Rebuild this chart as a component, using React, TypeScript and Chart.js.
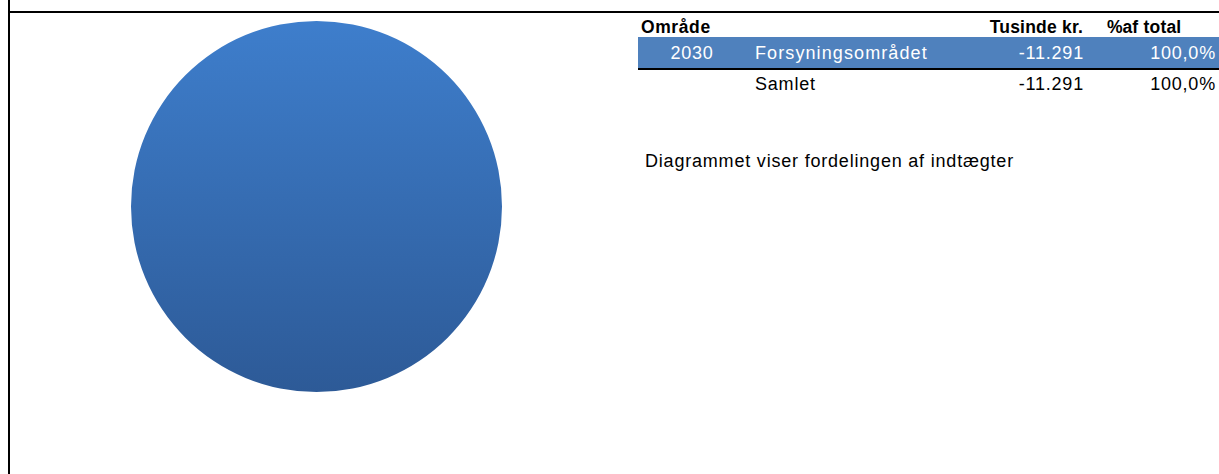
import React, { useEffect, useRef } from "react";
import { Chart, registerables } from "chart.js";

Chart.register(...registerables);

const years = ["2030"];
const areas = ["Forsyningsområdet"];
const values = [-11291];
const shares = ["100,0%"];
const totalLabel = "Samlet";
const totalValue = "-11.291";
const totalShare = "100,0%";
const headers = ["Område", "Tusinde kr.", "% af total"];
const note = "Diagrammet viser fordelingen af indtægter";

const fmt = (v: number) => {
  const s = Math.abs(v).toString().replace(/\B(?=(\d{3})+(?!\d))/g, ".");
  return (v < 0 ? "-" : "") + s;
};

const FONT = "'Liberation Sans', Arial, sans-serif";

export default function App() {
  const ref = useRef<HTMLCanvasElement | null>(null);

  useEffect(() => {
    if (!ref.current) return;
    const chart = new Chart(ref.current, {
      type: "pie",
      data: {
        labels: areas,
        datasets: [
          {
            data: values.map((v) => Math.abs(v)),
            borderWidth: 0,
            backgroundColor: (ctx: any) => {
              const c = ctx.chart;
              const a = c.chartArea;
              if (!a) return "#3A72BA";
              const g = c.ctx.createLinearGradient(0, a.top, 0, a.bottom);
              g.addColorStop(0, "#3E7ECC");
              g.addColorStop(1, "#2D5A97");
              return g;
            },
          },
        ],
      },
      options: {
        animation: false,
        responsive: true,
        maintainAspectRatio: false,
        layout: { padding: 0 },
        plugins: {
          legend: { display: false },
          tooltip: { enabled: false },
        },
      },
    });
    return () => chart.destroy();
  }, []);

  const cell = (
    text: React.ReactNode,
    key: string,
    left: number,
    width: number,
    center: number,
    opts: {
      align?: "left" | "right" | "center";
      bold?: boolean;
      color?: string;
      size?: number;
      spacing?: number;
    } = {}
  ) => {
    const h = 30;
    return (
      <div
        key={key}
        style={{
          position: "absolute",
          left,
          width,
          top: center - h / 2,
          height: h,
          lineHeight: h + "px",
          textAlign: opts.align || "left",
          fontFamily: FONT,
          fontWeight: opts.bold ? 700 : 400,
          fontSize: opts.size || 18,
          letterSpacing: (opts.spacing ?? 0.8) + "px",
          color: opts.color || "#000",
          whiteSpace: "nowrap",
        }}
      >
        {text}
      </div>
    );
  };

  const pctHeader = headers[2];
  const firstSpace = pctHeader.indexOf(" ");

  return (
    <div
      style={{
        position: "absolute",
        left: 0,
        top: 0,
        width: 1219,
        height: 474,
        overflow: "hidden",
        background: "#fff",
      }}
    >
      <div style={{ position: "absolute", left: 8, top: 0, width: 2, height: 474, background: "#000" }} />
      <div style={{ position: "absolute", left: 8, top: 11, width: 1211, height: 2, background: "#000" }} />

      <div style={{ position: "absolute", left: 131, top: 21, width: 371, height: 371 }}>
        <canvas ref={ref} />
      </div>

      {cell(headers[0], "h0", 641, 120, 27, { bold: true, size: 17.5, spacing: 0.6 })}
      {cell(headers[1], "h1", 900, 183, 27, { bold: true, size: 17.5, align: "right", spacing: 0.2 })}
      {cell(
        <>
          <span style={{ letterSpacing: "-2.5px" }}>{pctHeader.slice(0, firstSpace + 1)}</span>
          {pctHeader.slice(firstSpace + 1)}
        </>,
        "h2",
        1107,
        112,
        27,
        { bold: true, size: 17.5, spacing: 0.2 }
      )}

      <div style={{ position: "absolute", left: 638, top: 37, width: 581, height: 31, background: "#4F81BD" }} />
      <div style={{ position: "absolute", left: 638, top: 68, width: 581, height: 2, background: "#000" }} />

      {cell(years[0], "r0", 650, 84, 53, { align: "center", color: "#fff" })}
      {cell(areas[0], "r1", 755, 220, 53, { color: "#fff", spacing: 1.1 })}
      {cell(fmt(values[0]), "r2", 950, 134, 53, { align: "right", color: "#fff" })}
      {cell(shares[0], "r3", 1100, 116, 53, { align: "right", color: "#fff" })}

      {cell(totalLabel, "t1", 755, 220, 84)}
      {cell(totalValue, "t2", 950, 134, 84, { align: "right" })}
      {cell(totalShare, "t3", 1100, 116, 84, { align: "right" })}

      {cell(note, "n", 645, 500, 161)}
    </div>
  );
}
